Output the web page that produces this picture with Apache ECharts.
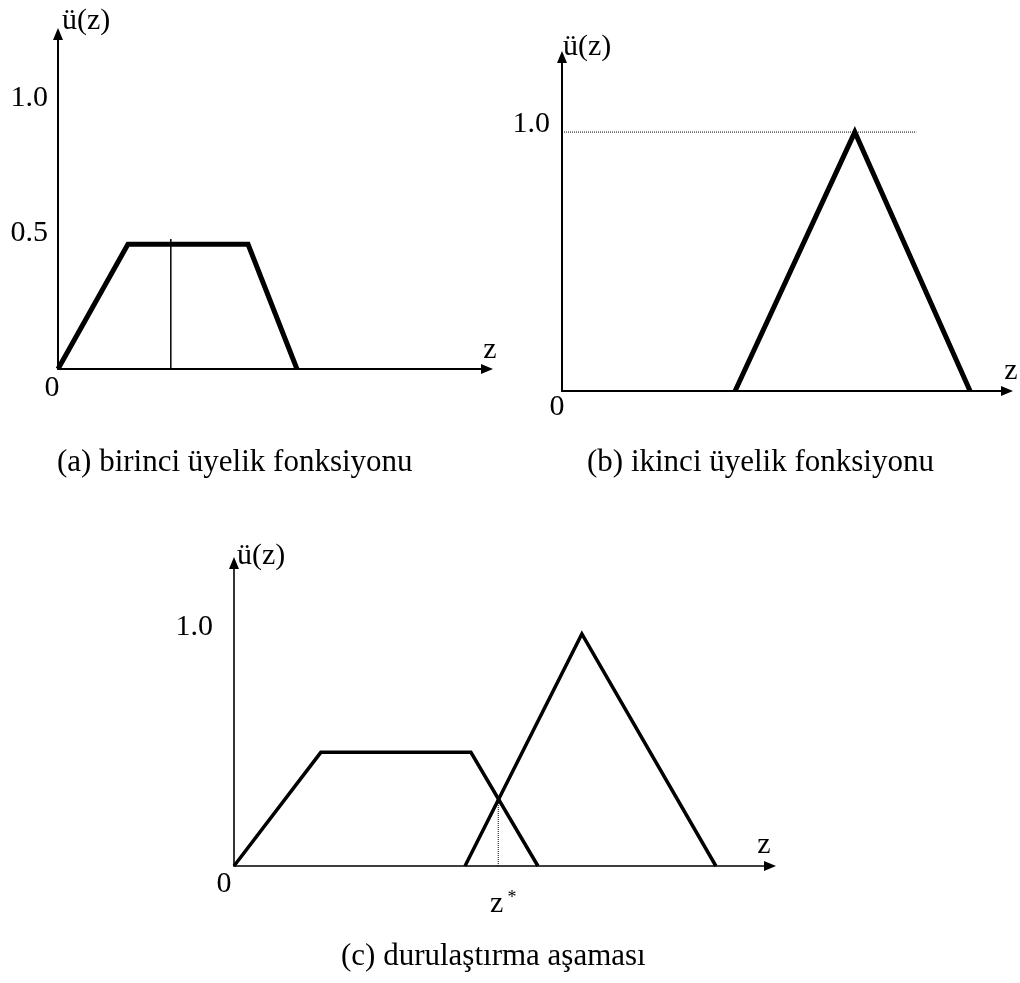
<!DOCTYPE html>
<html>
<head>
<meta charset="utf-8">
<title>Üyelik fonksiyonları</title>
<script src="https://cdn.jsdelivr.net/npm/echarts@6/dist/echarts.min.js"></script>
<style>
  html, body { margin: 0; padding: 0; background: #fff; }
  #chart { width: 1020px; height: 983px; }
</style>
</head>
<body>
<div id="chart"></div>
<script>
// (a) birinci uyelik fonksiyonu - trapez
var aZ = [0, 1.63, 4.43, 5.57];
var aMu = [0, 0.46, 0.46, 0];
var aLineZ = [2.63, 2.63];
var aLineMu = [0, 0.48];
var aYTicks = [0.5, 1.0];

// (b) ikinci uyelik fonksiyonu - ucgen
var bZ = [3.89, 6.58, 9.17];
var bMu = [0, 1, 0];
var bDotZ = [0, 7.96];
var bDotMu = [1, 1];
var bYTicks = [1.0];

// (c) durulastirma asamasi
var cTrapZ = [0, 1.62, 4.42, 5.67];
var cTrapMu = [0, 0.49, 0.49, 0];
var cTriZ = [4.31, 6.49, 8.99];
var cTriMu = [0, 1, 0];
var cStarZ = [4.93, 4.93];
var cStarMu = [0, 0.29];
var cYTicks = [1.0];

var captions = ['(a) birinci üyelik fonksiyonu', '(b) ikinci üyelik fonksiyonu', '(c) durulaştırma aşaması'];

var serif = "'Liberation Serif', 'Times New Roman', serif";

function pairs(xs, ys) {
  return xs.map(function (x, i) { return [x, ys[i]]; });
}

// "z" sits above the arrow end: bottom aligned, lineHeight = 2 * lift
function axisX(i, o) {
  return {
    type: 'value', gridIndex: i, min: 0, max: 10, interval: 10,
    name: 'z', nameLocation: 'end', nameGap: o.nameGap,
    nameTextStyle: { fontFamily: serif, fontSize: 30, color: '#000', align: 'center', verticalAlign: 'bottom', lineHeight: o.nameLift * 2 },
    axisLine: { show: true, onZero: false, symbol: ['none', 'triangle'], symbolSize: [10, 12], lineStyle: { color: '#000', width: o.w } },
    axisTick: { show: false },
    splitLine: { show: false },
    axisLabel: {
      margin: o.margin, fontFamily: serif, fontSize: 30, color: '#000', padding: [0, o.zeroPad, 0, 0],
      formatter: function (v) { return v === 0 ? '0' : ''; }
    }
  };
}

function axisY(i, o) {
  var lbl = {
    margin: o.margin, fontFamily: serif, fontSize: 30, color: '#000',
    formatter: function (v) { return o.ticks.indexOf(v) >= 0 ? v.toFixed(1) : ''; }
  };
  if (o.lift) { lbl.verticalAlign = 'bottom'; lbl.lineHeight = o.lift * 2; }
  return {
    type: 'value', gridIndex: i, min: 0, max: o.max, interval: 0.5,
    name: 'ü(z)', nameLocation: 'end', nameGap: o.nameGap,
    nameTextStyle: { fontFamily: serif, fontSize: 30, color: '#000', align: 'left', verticalAlign: 'middle', padding: [0, 0, 0, o.namePad] },
    axisLine: { show: true, onZero: false, symbol: ['none', 'triangle'], symbolSize: [10, 12], lineStyle: { color: '#000', width: o.w } },
    axisTick: { show: false },
    splitLine: { show: false },
    axisLabel: lbl
  };
}

function poly(i, data, w, type) {
  return {
    type: 'line', xAxisIndex: i, yAxisIndex: i, data: data,
    symbol: 'none', silent: true,
    lineStyle: { color: '#000', width: w, type: type || 'solid', join: 'miter' }
  };
}

var capStyle = { fontFamily: serif, fontSize: 31, fontWeight: 'normal', color: '#000' };

var chart = echarts.init(document.getElementById('chart'));
chart.setOption({
  animation: false,
  backgroundColor: '#fff',
  title: [
    { text: captions[0], left: 57, top: 447, padding: 0, textStyle: capStyle },
    { text: captions[1], left: 587, top: 447, padding: 0, textStyle: capStyle },
    { text: captions[2], left: 341, top: 941, padding: 0, textStyle: capStyle }
  ],
  grid: [
    { left: 58, top: 34, width: 429, height: 335 },
    { left: 562, top: 57, width: 445, height: 334 },
    { left: 234, top: 563, width: 536, height: 303 }
  ],
  xAxis: [
    axisX(0, { nameGap: 3, nameLift: 19, w: 2, margin: 4, zeroPad: 12 }),
    axisX(1, { nameGap: 4, nameLift: 20, w: 2, margin: 1, zeroPad: 10 }),
    axisX(2, { nameGap: -6, nameLift: 21, w: 1.6, margin: 3, zeroPad: 20 })
  ],
  yAxis: [
    axisY(0, { max: 1.236, nameGap: 13, namePad: 4, w: 2, margin: 10, lift: 0, ticks: aYTicks }),
    axisY(1, { max: 1.29, nameGap: 10, namePad: 1, w: 2, margin: 12, lift: 8, ticks: bYTicks }),
    axisY(2, { max: 1.306, nameGap: 7, namePad: 3, w: 1.6, margin: 21, lift: 7, ticks: cYTicks })
  ],
  series: [
    poly(0, pairs(aZ, aMu), 5),
    poly(0, pairs(aLineZ, aLineMu), 1.5),
    poly(1, pairs(bZ, bMu), 5),
    poly(1, pairs(bDotZ, bDotMu), 1, 'dotted'),
    poly(2, pairs(cTrapZ, cTrapMu), 3.5),
    poly(2, pairs(cTriZ, cTriMu), 3.5),
    poly(2, pairs(cStarZ, cStarMu), 1, 'dotted'),
    {
      type: 'scatter', xAxisIndex: 2, yAxisIndex: 2, silent: true,
      symbolSize: 1, itemStyle: { color: 'rgba(0,0,0,0)' },
      data: [[cStarZ[0], cStarMu[0]]],
      label: {
        show: true, position: 'bottom', distance: 23, color: '#000', opacity: 1,
        formatter: '{a|z}{b|*}',
        rich: {
          a: { fontFamily: serif, fontSize: 30, color: '#000', padding: [0, 0, 0, 10] },
          b: { fontFamily: serif, fontSize: 18, color: '#000', verticalAlign: 'top', padding: [0, 0, 0, 4] }
        }
      }
    }
  ]
});
</script>
</body>
</html>
